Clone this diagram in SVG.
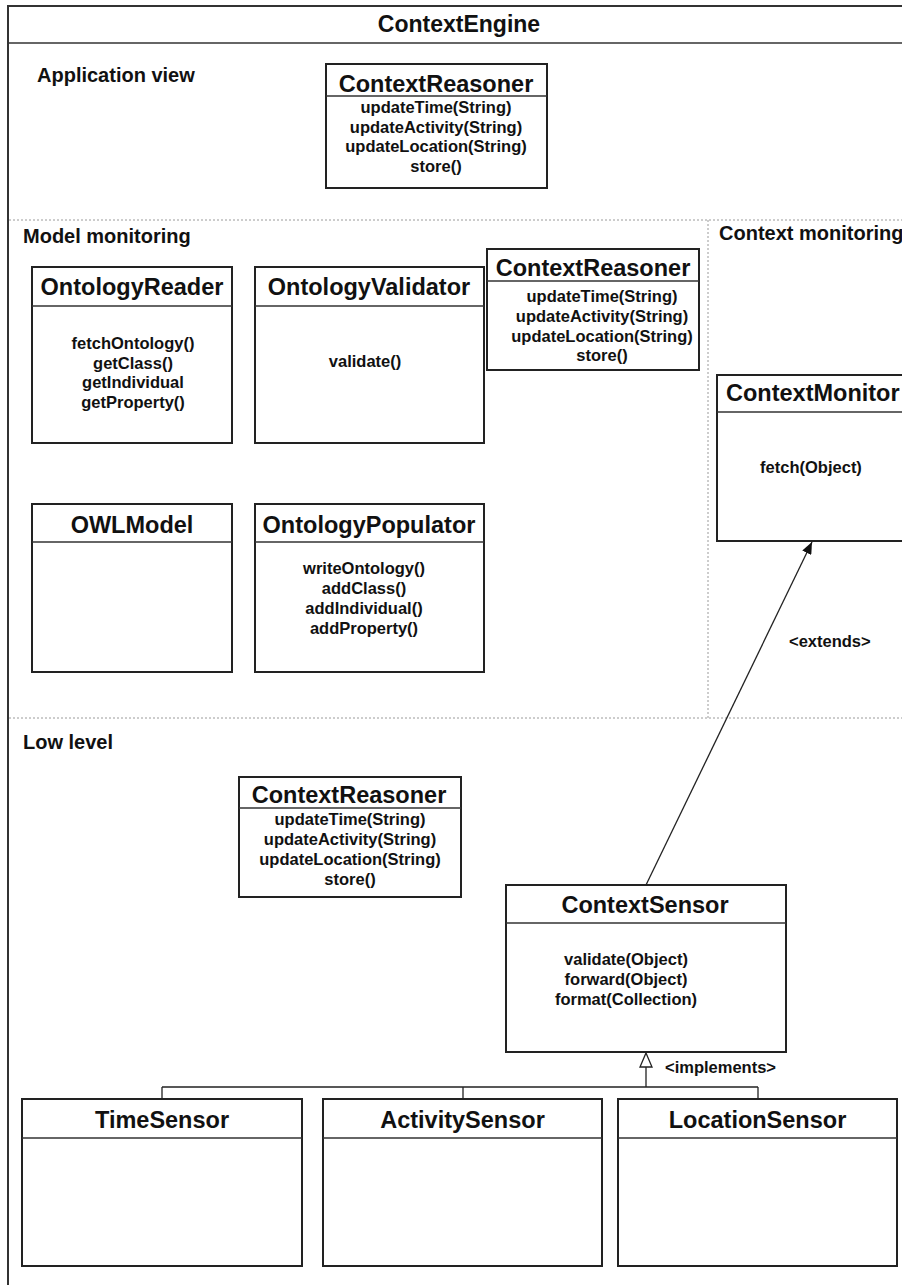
<svg xmlns="http://www.w3.org/2000/svg" width="902" height="1285" viewBox="0 0 902 1285">
<defs>
<style>
text{font-family:"Liberation Sans",Arial,sans-serif;font-weight:bold;fill:#111}
.t{font-size:23.5px;text-anchor:middle}
.m{font-size:16.5px;text-anchor:middle}
.s{font-size:20px}
.box{fill:#fff;stroke:#222;stroke-width:2}
.div{stroke:#333;stroke-width:1.5;fill:none}
.dot{stroke:#9a9a9a;stroke-width:1;stroke-dasharray:2,2;fill:none}
.ln{stroke:#222;stroke-width:1.3;fill:none}
</style>
<marker id="arr" viewBox="0 0 12 10" refX="12" refY="5" markerWidth="12" markerHeight="10" markerUnits="userSpaceOnUse" orient="auto">
<path d="M0,0 L12,5 L0,10 z" fill="#111"/>
</marker>
</defs>
<rect width="902" height="1285" fill="#fff"/>
<g id="frame">
<line x1="7" y1="6" x2="910" y2="6" stroke="#333" stroke-width="2"/>
<line x1="8" y1="5" x2="8" y2="1290" stroke="#333" stroke-width="2"/>
<line x1="8" y1="43" x2="910" y2="43" stroke="#333" stroke-width="1.5"/>
<text x="459" y="32" style="font-size:23px;text-anchor:middle">ContextEngine</text>
<line class="dot" x1="9" y1="220" x2="902" y2="220"/>
<line class="dot" x1="9" y1="718" x2="902" y2="718"/>
<line class="dot" x1="708" y1="220" x2="708" y2="718"/>
<text class="s" x="37" y="82">Application view</text>
<text class="s" x="23" y="243">Model monitoring</text>
<text class="s" x="719" y="240">Context monitoring</text>
<text class="s" x="23" y="749">Low level</text>
</g>
<g id="ContextReasonerApp">
<rect class="box" x="326" y="64" width="221" height="124"/>
<line class="div" x1="326" y1="96" x2="547" y2="96"/>
<text class="t" x="436" y="92">ContextReasoner</text>
<text class="m" x="436" y="113">updateTime(String)</text>
<text class="m" x="436" y="132.5">updateActivity(String)</text>
<text class="m" x="436" y="152">updateLocation(String)</text>
<text class="m" x="436" y="171.5">store()</text>
</g>
<g id="OntologyReader">
<rect class="box" x="32" y="267" width="200" height="176"/>
<line class="div" x1="32" y1="306" x2="232" y2="306"/>
<text class="t" x="132" y="295">OntologyReader</text>
<text class="m" x="133" y="349">fetchOntology()</text>
<text class="m" x="133" y="369">getClass()</text>
<text class="m" x="133" y="388">getIndividual</text>
<text class="m" x="133" y="408">getProperty()</text>
</g>
<g id="OntologyValidator">
<rect class="box" x="255" y="267" width="229" height="176"/>
<line class="div" x1="255" y1="306" x2="484" y2="306"/>
<text class="t" x="369" y="295">OntologyValidator</text>
<text class="m" x="365" y="367">validate()</text>
</g>
<g id="ContextReasonerModel">
<rect class="box" x="487" y="249" width="212" height="121"/>
<line class="div" x1="487" y1="281" x2="699" y2="281"/>
<text class="t" x="593" y="276">ContextReasoner</text>
<text class="m" x="602" y="302">updateTime(String)</text>
<text class="m" x="602" y="322">updateActivity(String)</text>
<text class="m" x="602" y="342">updateLocation(String)</text>
<text class="m" x="602" y="361">store()</text>
</g>
<g id="OWLModel">
<rect class="box" x="32" y="504" width="200" height="168"/>
<line class="div" x1="32" y1="542" x2="232" y2="542"/>
<text class="t" x="132" y="533">OWLModel</text>
</g>
<g id="OntologyPopulator">
<rect class="box" x="255" y="504" width="229" height="168"/>
<line class="div" x1="255" y1="542" x2="484" y2="542"/>
<text class="t" x="369" y="533">OntologyPopulator</text>
<text class="m" x="364" y="574">writeOntology()</text>
<text class="m" x="364" y="594">addClass()</text>
<text class="m" x="364" y="614">addIndividual()</text>
<text class="m" x="364" y="634">addProperty()</text>
</g>
<g id="ContextMonitor">
<rect class="box" x="717" y="375" width="195" height="166"/>
<line class="div" x1="717" y1="412" x2="912" y2="412"/>
<text class="t" x="726" y="401" style="text-anchor:start">ContextMonitor</text>
<text class="m" x="811" y="473">fetch(Object)</text>
</g>
<g id="ContextReasonerLow">
<rect class="box" x="239" y="777" width="222" height="120"/>
<line class="div" x1="239" y1="808" x2="461" y2="808"/>
<text class="t" x="349" y="803">ContextReasoner</text>
<text class="m" x="350" y="825">updateTime(String)</text>
<text class="m" x="350" y="845">updateActivity(String)</text>
<text class="m" x="350" y="865">updateLocation(String)</text>
<text class="m" x="350" y="885">store()</text>
</g>
<g id="ContextSensor">
<rect class="box" x="506" y="885" width="280" height="167"/>
<line class="div" x1="506" y1="923" x2="786" y2="923"/>
<text class="t" x="645" y="913">ContextSensor</text>
<text class="m" x="626" y="965">validate(Object)</text>
<text class="m" x="626" y="985">forward(Object)</text>
<text class="m" x="626" y="1005">format(Collection)</text>
</g>
<g id="TimeSensor">
<rect class="box" x="22" y="1099" width="280" height="167"/>
<line class="div" x1="22" y1="1138" x2="302" y2="1138"/>
<text class="t" x="162" y="1128">TimeSensor</text>
</g>
<g id="ActivitySensor">
<rect class="box" x="323" y="1099" width="279" height="167"/>
<line class="div" x1="323" y1="1138" x2="602" y2="1138"/>
<text class="t" x="462.5" y="1128">ActivitySensor</text>
</g>
<g id="LocationSensor">
<rect class="box" x="618" y="1099" width="279" height="167"/>
<line class="div" x1="618" y1="1138" x2="897" y2="1138"/>
<text class="t" x="757.5" y="1128">LocationSensor</text>
</g>
<g id="connectors">
<line class="ln" x1="646" y1="885" x2="812" y2="542" marker-end="url(#arr)"/>
<text x="789" y="647" style="font-size:16.5px">&lt;extends&gt;</text>
<path class="ln" d="M646,1067 L646,1087 M162,1087 L758,1087 M162,1087 L162,1099 M463,1087 L463,1099 M758,1087 L758,1099"/>
<path d="M646,1053 L652,1067 L640,1067 z" fill="#fff" stroke="#222" stroke-width="1.3"/>
<text x="665" y="1073" style="font-size:16.5px">&lt;implements&gt;</text>
</g>
</svg>
